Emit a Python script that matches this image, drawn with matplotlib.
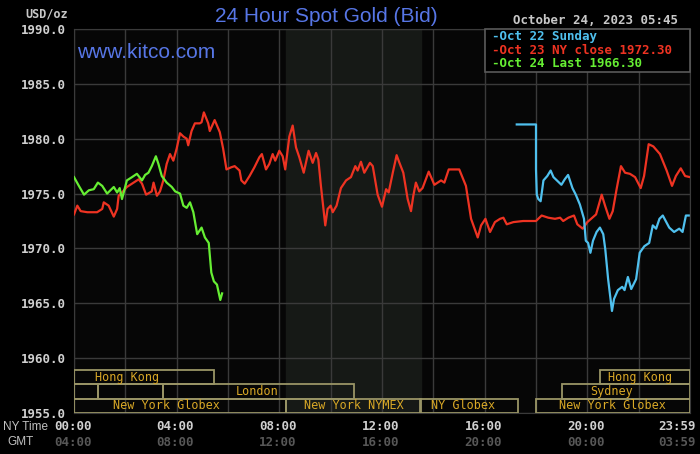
import matplotlib
matplotlib.use("Agg")
import matplotlib.pyplot as plt
from matplotlib.patches import Rectangle
from matplotlib.transforms import blended_transform_factory

# Oct 23 NY close series (hours NY time, USD/oz)
red_h = [0.0, 0.13, 0.26, 0.52, 0.90, 1.10, 1.16, 1.35, 1.55, 1.68, 1.74, 1.87,
         2.06, 2.26, 2.52, 2.65, 2.81, 3.03, 3.10, 3.23, 3.35, 3.48, 3.61, 3.74,
         3.87, 4.0, 4.13, 4.26, 4.39, 4.45, 4.58, 4.71, 4.90, 4.97, 5.06, 5.23,
         5.29, 5.48, 5.68, 5.81, 5.94, 6.13, 6.26, 6.45, 6.52, 6.65, 6.84, 7.03,
         7.22, 7.32, 7.48, 7.61, 7.74, 7.84, 8.0, 8.13, 8.23, 8.39, 8.52, 8.65,
         8.78, 8.95, 9.14, 9.30, 9.43, 9.52, 9.62, 9.79, 9.88, 10.0, 10.08, 10.23,
         10.40, 10.60, 10.79, 10.96, 11.05, 11.18, 11.31, 11.53, 11.64, 11.83, 12.0, 12.16,
         12.26, 12.42, 12.57, 12.68, 12.83, 13.0, 13.13, 13.22, 13.32, 13.45, 13.58, 13.82,
         14.04, 14.30, 14.43, 14.60, 14.82, 15.01, 15.27, 15.47, 15.73, 15.86, 16.03, 16.21,
         16.40, 16.60, 16.73, 16.86, 17.12, 17.50, 18.0, 18.22, 18.48, 18.74, 18.94, 19.06,
         19.26, 19.48, 19.61, 19.82, 20.0, 20.34, 20.56, 20.69, 20.86, 20.99, 21.14, 21.31,
         21.47, 21.66, 21.86, 22.08, 22.21, 22.39, 22.57, 22.83, 23.09, 23.30, 23.45, 23.64,
         23.81, 24.0]
red_p = [1973.1, 1973.9, 1973.4, 1973.3, 1973.3, 1973.6, 1974.2, 1973.9, 1972.9, 1973.6, 1974.8, 1975.1,
         1975.6, 1975.9, 1976.3, 1975.9, 1974.9, 1975.2, 1976.0, 1974.8, 1975.2, 1976.2, 1977.7, 1978.6,
         1978.0, 1979.1, 1980.5, 1980.2, 1980.0, 1979.4, 1980.7, 1981.4, 1981.4, 1981.5, 1982.4, 1981.4,
         1980.7, 1981.7, 1980.6, 1979.1, 1977.2, 1977.4, 1977.5, 1977.1, 1976.2, 1975.9, 1976.6, 1977.4,
         1978.3, 1978.6, 1977.2, 1977.7, 1978.6, 1978.0, 1978.9, 1978.4, 1977.2, 1980.2, 1981.2, 1979.2,
         1978.3, 1976.9, 1978.9, 1977.8, 1978.7, 1978.1, 1975.7, 1972.1, 1973.6, 1973.9, 1973.3, 1973.9,
         1975.5, 1976.2, 1976.5, 1977.5, 1977.1, 1977.9, 1976.9, 1977.8, 1977.5, 1974.9, 1973.8, 1975.4,
         1975.1, 1976.9, 1978.5, 1977.8, 1976.9, 1974.5, 1973.4, 1974.8, 1976.0, 1975.2, 1975.5, 1977.0,
         1975.8, 1976.2, 1976.0, 1977.2, 1977.2, 1977.2, 1975.7, 1972.7, 1971.0, 1972.1, 1972.7, 1971.5,
         1972.4, 1972.7, 1972.8, 1972.2, 1972.4, 1972.5, 1972.5, 1973.0, 1972.8, 1972.7, 1972.8, 1972.5,
         1972.8, 1973.0, 1972.2, 1971.8, 1972.4, 1973.1, 1974.9, 1973.9, 1972.7, 1973.4, 1975.4, 1977.5,
         1976.9, 1976.8, 1976.5, 1975.5, 1976.6, 1979.5, 1979.3, 1978.6, 1977.1, 1975.7, 1976.6, 1977.3,
         1976.6, 1976.5]

# Oct 24 last series
green_h = [0.0, 0.19, 0.39, 0.58, 0.77, 0.93, 1.10, 1.29, 1.55, 1.68, 1.78, 1.87,
           2.06, 2.26, 2.45, 2.65, 2.77, 2.90, 3.03, 3.19, 3.29, 3.42, 3.61, 3.81,
           3.94, 4.13, 4.26, 4.39, 4.52, 4.65, 4.80, 4.97, 5.10, 5.25, 5.35, 5.45,
           5.57, 5.70, 5.77]
green_p = [1976.5, 1975.7, 1974.9, 1975.3, 1975.4, 1976.0, 1975.7, 1975.0, 1975.6, 1975.1, 1975.5, 1974.5,
           1976.2, 1976.5, 1976.8, 1976.2, 1976.7, 1976.9, 1977.5, 1978.4, 1977.7, 1976.6, 1976.0, 1975.6,
           1975.2, 1975.0, 1973.9, 1973.7, 1974.2, 1973.3, 1971.3, 1971.9, 1971.0, 1970.5, 1967.8, 1967.0,
           1966.7, 1965.3, 1965.9]

# Oct 22 Sunday series
blue_h = [17.25, 18.0, 18.0, 18.03, 18.09, 18.18, 18.29, 18.44, 18.57, 18.68, 18.99, 19.12,
          19.25, 19.42, 19.55, 19.71, 19.87, 19.94, 20.03, 20.12, 20.22, 20.36, 20.49, 20.62,
          20.70, 20.81, 20.96, 21.04, 21.19, 21.36, 21.45, 21.58, 21.71, 21.90, 22.04, 22.22,
          22.41, 22.55, 22.68, 22.81, 22.94, 23.19, 23.38, 23.58, 23.71, 23.84, 23.95]
blue_p = [1981.3, 1981.3, 1977.2, 1974.9, 1974.5, 1974.3, 1976.2, 1976.6, 1977.1, 1976.5, 1975.8, 1976.3,
          1976.7, 1975.5, 1974.9, 1974.0, 1972.7, 1970.7, 1970.5, 1969.6, 1970.7, 1971.5, 1971.9, 1971.3,
          1969.9, 1967.2, 1964.3, 1965.4, 1966.2, 1966.5, 1966.2, 1967.4, 1966.3, 1967.2, 1969.6, 1970.2,
          1970.5, 1972.1, 1971.8, 1972.7, 1973.0, 1971.9, 1971.5, 1971.8, 1971.5, 1973.0, 1973.0]

legend_labels = ["-Oct 22 Sunday", "-Oct 23 NY close 1972.30", "-Oct 24 Last 1966.30"]
ny_labels = ["00:00", "04:00", "08:00", "12:00", "16:00", "20:00", "23:59"]
gmt_labels = ["04:00", "08:00", "12:00", "16:00", "20:00", "00:00", "03:59"]
label_hours = [0, 4, 8, 12, 16, 20, 24]

# trading sessions: (row, start hour, end hour, name)
sessions = [
    (0, 0.0, 5.45, "Hong Kong"), (0, 20.5, 24.0, "Hong Kong"),
    (1, 0.0, 0.93, ""), (1, 0.93, 3.45, ""), (1, 3.45, 10.9, "London"),
    (1, 19.0, 24.0, "Sydney"),
    (2, 0.0, 8.25, "New York Globex"), (2, 8.25, 13.5, "New York NYMEX"),
    (2, 13.5, 17.3, "NY Globex"), (2, 18.0, 24.0, "New York Globex"),
]
session_label_hours = [2.07, 22.05, None, None, 7.13, 20.96, 3.62, 10.9, 15.15, 20.96]

RED = "#ee3322"
GREEN = "#66ee33"
BLUE = "#4fc0ee"
GRID = "#3a3a3a"
MONO = "DejaVu Sans Mono"

fig = plt.figure(figsize=(7.0, 4.54), dpi=100, facecolor="black")
ax = fig.add_axes([74 / 700, 41 / 454, 616 / 700, 384 / 454])
ax.set_facecolor("#060606")
ax.set_xlim(0, 24)
ax.set_ylim(1955, 1990)

ax.axvspan(8.25, 13.5, color="#161916", zorder=0)

ax.set_xticks(range(0, 25, 2))
ax.set_yticks(range(1955, 1991, 5))
ax.set_yticklabels(["%.1f" % v for v in range(1955, 1991, 5)])
ax.grid(True, color=GRID, lw=1.0)
ax.set_axisbelow(True)
ax.tick_params(axis="x", length=0, labelbottom=False)
ax.tick_params(axis="y", length=0, pad=6, labelcolor="#d0d0d0", labelsize=9)
for lab in ax.get_yticklabels():
    lab.set_fontfamily(MONO)
    lab.set_fontweight("bold")
for sp in ax.spines.values():
    sp.set_color(GRID)

ax.plot(red_h, red_p, color=RED, lw=1.6, zorder=3)
ax.plot(green_h, green_p, color=GREEN, lw=1.6, zorder=4)
ax.plot(blue_h, blue_p, color=BLUE, lw=1.6, zorder=3)

# session boxes along the bottom
trans = blended_transform_factory(ax.transData, ax.transAxes)
row_y = [(0.0755, 0.111), (0.0365, 0.0755), (0.0, 0.0365)]
for (row, h0, h1, name), lx in zip(sessions, session_label_hours):
    y0, y1 = row_y[row]
    ax.add_patch(Rectangle((h0, y0), h1 - h0, y1 - y0, transform=trans,
                           fill=False, ec="#9a9566", lw=1.3, zorder=5))
    if name:
        ax.text(lx, (y0 + y1) / 2, name, transform=trans, ha="center", va="center",
                color="#d9a826", fontsize=8.5, family=MONO, zorder=6)

# legend box
ax.add_patch(Rectangle((0.667, 0.888), 0.333, 0.112, transform=ax.transAxes,
                       fc="black", ec="#5a5a5a", lw=1.2, zorder=7, clip_on=False))
for i, (txt, c) in enumerate(zip(legend_labels, [BLUE, RED, GREEN])):
    ax.text(0.679, 0.980 - i * 0.0355, txt, transform=ax.transAxes, color=c,
            fontsize=9, family=MONO, fontweight="bold", va="center", zorder=8)

# time axis labels
for i, h in enumerate(label_hours):
    ha = "right" if h == 24 else "center"
    dx = 4 if h == 24 else -1
    ax.annotate(ny_labels[i], xy=(h, 0), xycoords=trans, xytext=(dx, -10),
                textcoords="offset points", ha=ha, va="center", color="#d0d0d0",
                fontsize=9, family=MONO, fontweight="bold", annotation_clip=False)
    ax.annotate(gmt_labels[i], xy=(h, 0), xycoords=trans, xytext=(dx, -21),
                textcoords="offset points", ha=ha, va="center", color="#575757",
                fontsize=9, family=MONO, fontweight="bold", annotation_clip=False)

fig.text(48 / 700, 1 - 427 / 454, "NY Time", ha="right", va="center", color="#c0c0c0",
         fontsize=8.5, family="Liberation Sans")
fig.text(21 / 700, 1 - 442 / 454, "GMT", ha="center", va="center", color="#c0c0c0",
         fontsize=8.5, family="Liberation Sans")
fig.text(68 / 700, 1 - 14 / 454, "USD/oz", ha="right", va="center", color="#c8c8c8",
         fontsize=8.5, family=MONO, fontweight="bold")
fig.text(326 / 700, 1 - 16 / 454, "24 Hour Spot Gold (Bid)", ha="center", va="center",
         color="#5776e6", fontsize=15, family="Liberation Sans")
fig.text(678 / 700, 1 - 21 / 454, "October 24, 2023 05:45", ha="right", va="center",
         color="#c8c8c8", fontsize=9, family=MONO, fontweight="bold")
fig.text(77 / 700, 1 - 52 / 454, "www.kitco.com", color="#5776e6", fontsize=15,
         family="Liberation Sans", va="center", zorder=8)

fig.savefig("out.png", dpi=100, facecolor="black")
